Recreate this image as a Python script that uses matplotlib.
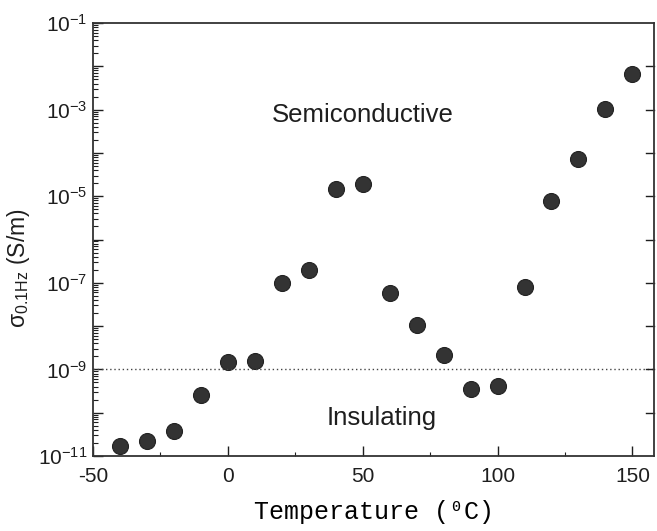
import numpy as np
import matplotlib
matplotlib.use("Agg")
import matplotlib.pyplot as plt
from matplotlib.ticker import LogLocator, FixedLocator, FuncFormatter, NullFormatter

plt.rcParams['font.family'] = 'Liberation Sans'
plt.rcParams['mathtext.fontset'] = 'custom'
plt.rcParams['mathtext.rm'] = 'Liberation Sans'
plt.rcParams['mathtext.it'] = 'Liberation Sans:italic'
plt.rcParams['axes.unicode_minus'] = False

# temperature (C) and conductivity at 0.1 Hz (S/m)
temperature = [-40, -30, -20, -10, 0, 10, 20, 30, 40, 50,
               60, 70, 80, 90, 100, 110, 120, 130, 140, 150]
sigma = [1.7e-11, 2.2e-11, 3.8e-11, 2.6e-10, 1.5e-9, 1.55e-9, 9.8e-8, 2.0e-7, 1.5e-5, 1.9e-5,
         5.9e-8, 1.07e-8, 2.2e-9, 3.5e-10, 4.2e-10, 8.1e-8, 7.9e-6, 7.1e-5, 1.03e-3, 6.6e-3]
threshold = 1e-9
x_ticks = [-50, 0, 50, 100, 150]

ink = '#1e1e1e'
fig = plt.figure(figsize=(6.57, 5.31), dpi=100)
ax = fig.add_axes([0.1416, 0.1412, 0.8538, 0.8155])

ax.plot(temperature, sigma, 'o', ms=11.5, color='#333333', mec='#222222', mew=0.8)
ax.axhline(threshold, color='#444444', ls=(0, (1, 2)), lw=1.0)

ax.set_yscale('log')
ax.set_ylim(1e-11, 1e-1)
ax.set_xlim(-50, 158)

# y axis: tick every decade, label every other one
ax.yaxis.set_major_locator(FixedLocator([10.0 ** e for e in range(-11, 0)]))
ax.yaxis.set_major_formatter(FuncFormatter(
    lambda v, p: r'10$^{\mathregular{%d}}$' % round(np.log10(v)) if round(np.log10(v)) % 2 else ''))
ax.yaxis.set_minor_locator(LogLocator(base=10, subs=np.arange(2, 10), numticks=100))
ax.yaxis.set_minor_formatter(NullFormatter())

ax.xaxis.set_major_locator(FixedLocator(x_ticks))
ax.xaxis.set_minor_locator(FixedLocator([-25, 25, 75, 125]))

ax.tick_params(which='both', direction='in', colors=ink, labelsize=15, right=False, top=False)
ax.tick_params(which='major', length=7, width=1.0)
ax.tick_params(which='minor', length=3.5, width=0.8)
ax.tick_params(axis='x', which='minor', length=3)
ax.tick_params(axis='x', pad=8)
ax.tick_params(axis='y', pad=4)

# right spine gets plain decade ticks
for e in range(-10, -1):
    ax.plot([1, 0.985], [10.0 ** e] * 2, color=ink, lw=1.0, transform=ax.get_yaxis_transform(), clip_on=False)

for s in ax.spines.values():
    s.set_color('#333333')
    s.set_linewidth(1.3)

ax.text(50, 7.5e-4, 'Semiconductive', fontsize=18.5, color=ink, ha='center', va='center')
ax.text(57, 7.6e-11, 'Insulating', fontsize=18.5, color=ink, ha='center', va='center')

ax.set_xlabel('Temperature (⁰C)', family=['Liberation Mono', 'DejaVu Sans Mono'], fontsize=18, color='black', labelpad=10)
ax.set_ylabel(r'$\mathregular{σ_{0.1Hz}}$ (S/m)', fontsize=16.5, color=ink)
ax.yaxis.set_label_coords(-0.108, 0.434)

fig.savefig('out.png', dpi=100)
